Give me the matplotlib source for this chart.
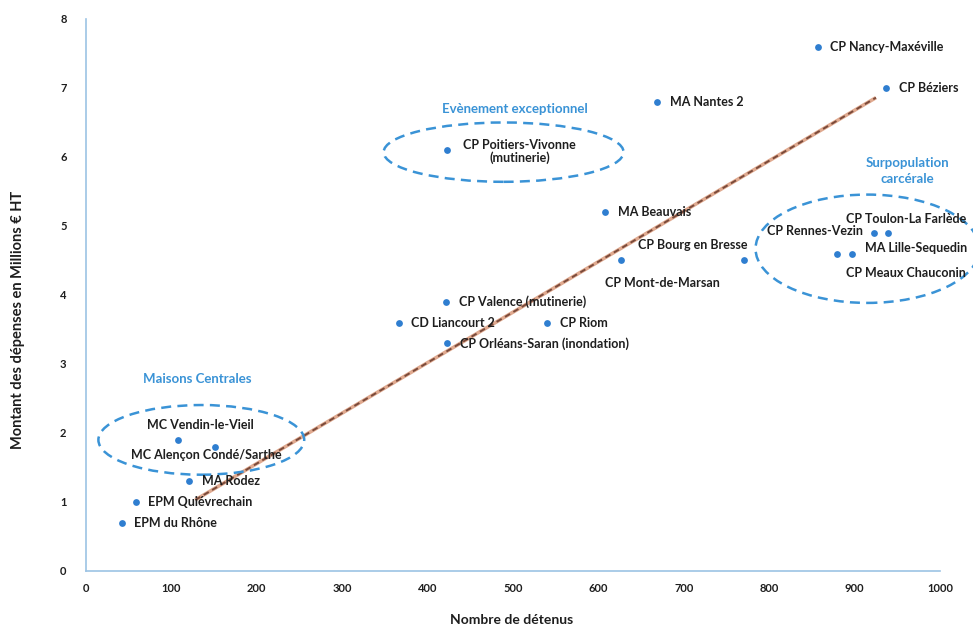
import matplotlib
matplotlib.use('Agg')
import matplotlib.pyplot as plt
from matplotlib.patches import Ellipse

# number of inmates vs. spending (millions EUR excl. tax), one point per establishment
names = ['CP Nancy-Maxéville', 'CP Béziers', 'MA Nantes 2', 'CP Poitiers-Vivonne\n(mutinerie)',
         'MA Beauvais', 'CP Mont-de-Marsan', 'CP Bourg en Bresse',
         'CP Rennes-Vezin', 'CP Toulon-La Farlède', 'MA Lille-Sequedin', 'CP Meaux Chauconin',
         'CP Valence (mutinerie)', 'CD Liancourt 2', 'CP Riom', 'CP Orléans-Saran (inondation)',
         'MC Vendin-le-Vieil', 'MC Alençon Condé/Sarthe', 'MA Rodez', 'EPM Quiévrechain', 'EPM du Rhône']
detenus = [857, 937, 669, 423, 608, 626, 770, 923, 939, 897, 879,
           422, 366, 540, 423, 108, 151, 121, 58, 42]
depenses = [7.6, 7.0, 6.8, 6.1, 5.2, 4.5, 4.5, 4.9, 4.9, 4.6, 4.6,
            3.9, 3.6, 3.6, 3.3, 1.9, 1.8, 1.3, 1.0, 0.7]

# trend line end points
trend_x = [128, 925]
trend_y = [1.03, 6.86]

# label offsets (points) and alignment per establishment
label_pos = {
    'CP Poitiers-Vivonne\n(mutinerie)': (52, -1, 'center'),
    'CP Mont-de-Marsan': (30, -16, 'center'),
    'CP Bourg en Bresse': (3, 11, 'right'),
    'CP Rennes-Vezin': (-8, 1, 'right'),
    'CP Toulon-La Farlède': (-30, 10, 'left'),
    'MA Lille-Sequedin': (9, 4, 'left'),
    'CP Meaux Chauconin': (7, -14, 'left'),
    'MC Vendin-le-Vieil': (16, 11, 'center'),
    'MC Alençon Condé/Sarthe': (-6, -6, 'center'),
}

dot_color = '#2f7ed0'
note_color = '#3a93d6'
axis_color = '#9cc3e4'
font = ['Lato', 'DejaVu Sans']

fig = plt.figure(figsize=(9.73, 6.33), dpi=100)
ax = fig.add_axes([0.0884, 0.098, 0.8777, 0.872])

ax.plot(trend_x, trend_y, color='#e0aa90', lw=2.6, solid_capstyle='butt', zorder=1)
ax.plot(trend_x, trend_y, color='#7a4a3a', lw=1.4, ls=(0, (3, 2)), zorder=2)
ax.scatter(detenus, depenses, s=24, color=dot_color, zorder=3, linewidths=0)

for n, x, y in zip(names, detenus, depenses):
    dx, dy, ha = label_pos.get(n, (9, 0, 'left'))
    ax.annotate(n, (x, y), xytext=(dx, dy), textcoords='offset points',
                ha=ha, va='center', fontsize=9, fontweight='bold',
                family=font, color='#1e1e1e', linespacing=1.1,
                annotation_clip=False, zorder=4)

# groups circled in dashed blue
groups = [((489, 6.07), 281, 0.86), ((135, 1.90), 241, 1.01), ((915, 4.67), 262, 1.57)]
for (cx, cy), w, h in groups:
    ax.add_patch(Ellipse((cx, cy), w, h, fill=False, ec=note_color, lw=1.8,
                         ls=(0, (4, 2.5)), clip_on=False, zorder=2))

ax.text(502, 6.7, 'Evènement exceptionnel', color=note_color, fontsize=9.5,
        fontweight='bold', family=font, ha='center', va='center')
ax.text(962, 5.8, 'Surpopulation\ncarcérale', color=note_color, fontsize=9.5,
        fontweight='bold', family=font, ha='center', va='center', linespacing=1.4)
ax.text(130, 2.78, 'Maisons Centrales', color=note_color, fontsize=9.5,
        fontweight='bold', family=font, ha='center', va='center')

ax.set_xlim(0, 1000)
ax.set_ylim(0, 8)
ax.set_xticks(range(0, 1001, 100))
ax.set_yticks(range(0, 9))
for s in ['top', 'right']:
    ax.spines[s].set_visible(False)
for s in ['left', 'bottom']:
    ax.spines[s].set_color(axis_color)
    ax.spines[s].set_linewidth(1.2)
ax.tick_params(length=0, pad=9, labelsize=8, labelcolor='#1e1e1e')
for lab in ax.get_xticklabels() + ax.get_yticklabels():
    lab.set_fontweight('bold')
    lab.set_family(font)
ax.tick_params(axis='y', pad=14)

fig.text(0.526, 0.02, 'Nombre de détenus', ha='center', va='center',
         fontsize=10, fontweight='bold', family=font, color='#1e1e1e')
fig.text(0.018, 0.495, 'Montant des dépenses en Millions € HT', rotation=90,
         ha='center', va='center', fontsize=10.5, fontweight='bold', family=font, color='#1e1e1e')

fig.savefig('out.png', dpi=100)
